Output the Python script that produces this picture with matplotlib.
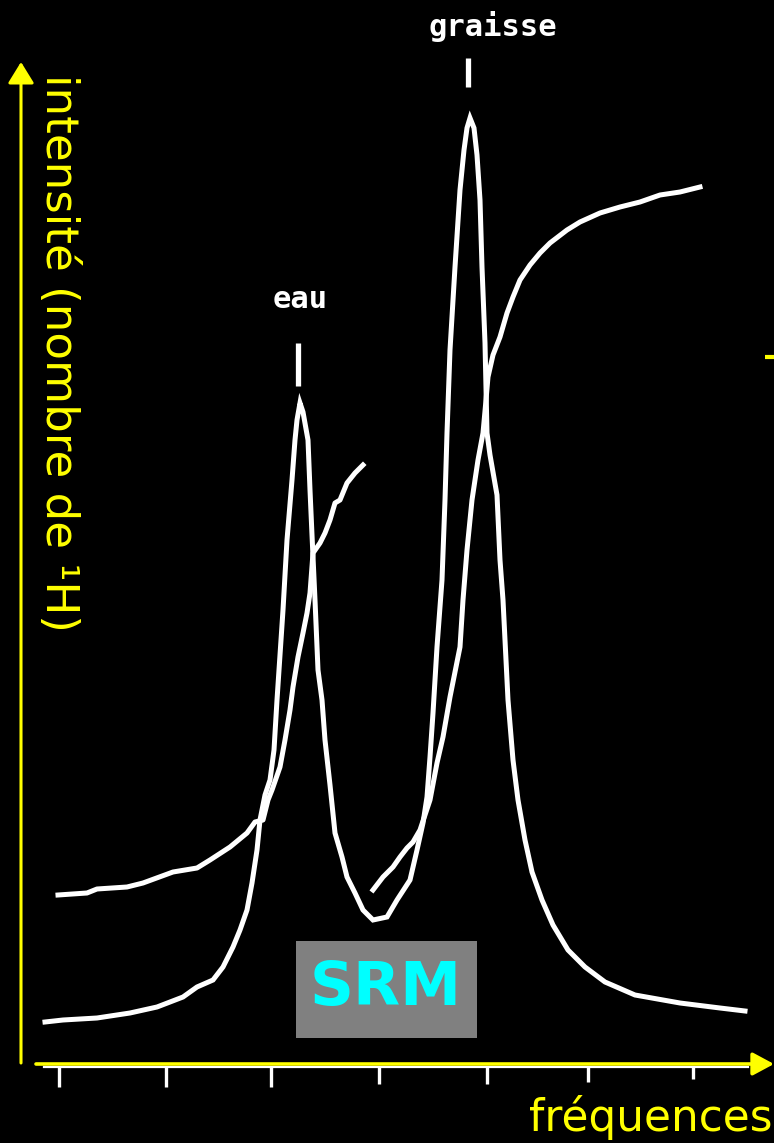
import numpy as np
import matplotlib.pyplot as plt
from matplotlib.patches import Rectangle

# Spectre SRM eau / graisse -- unites arbitraires
# frequence (u.a.) et intensite (u.a.) du spectre d'absorption
abs_freq = [-14, 4, 38, 71, 98, 124, 138, 154, 164, 174, 181, 188, 193, 198, 201,
            206, 211, 215, 218, 221, 224, 228, 233, 236, 238, 241, 244, 249, 251,
            253, 256, 259, 263, 266, 271, 276, 283, 288, 296, 304, 314, 328, 338,
            351, 358, 364, 368, 371, 374, 378, 383, 386, 388, 391, 396, 401, 405,
            408, 411, 415, 418, 421, 423, 426, 428, 431, 438, 441, 444, 446, 449,
            454, 459, 466, 473, 483, 494, 509, 526, 546, 576, 621, 661, 686]
abs_int = [42, 44, 46, 51, 57, 67, 77, 84, 97, 117, 134, 154, 181, 214, 244,
           269, 284, 314, 364, 409, 454, 524, 584, 624, 644, 661, 652, 624, 574,
           529, 464, 394, 364, 324, 279, 231, 207, 187, 171, 154, 144, 147, 164,
           184, 214, 241, 267, 307, 351, 417, 484, 564, 631, 714, 797, 874, 914,
           936, 946, 936, 909, 864, 797, 721, 631, 609, 569, 504, 464, 424, 364,
           304, 264, 224, 192, 164, 139, 114, 97, 82, 69, 61, 56, 53]

# courbe de dispersion, pic de l'eau
disp_eau_freq = [-1, 28, 38, 68, 84, 114, 138, 151, 171, 188, 196, 204, 209, 213,
                 221, 226, 231, 234, 239, 244, 248, 251, 254, 261, 266, 271, 276,
                 281, 288, 296, 304]
disp_eau_int = [169, 171, 175, 177, 181, 192, 196, 204, 217, 231, 242, 244, 264,
                274, 297, 324, 354, 377, 407, 431, 451, 471, 511, 521, 531, 544,
                561, 564, 581, 591, 599]

# courbe de dispersion, pic de la graisse
disp_gr_freq = [314, 324, 334, 341, 348, 354, 361, 371, 378, 384, 391, 401, 404,
                408, 413, 419, 424, 427, 429, 434, 441, 448, 454, 461, 471, 481,
                491, 508, 521, 541, 561, 581, 601, 621, 641]
disp_gr_int = [174, 187, 197, 207, 216, 222, 234, 264, 301, 327, 367, 417, 464,
               514, 564, 604, 631, 664, 687, 709, 727, 751, 767, 784, 799, 811,
               821, 834, 842, 851, 857, 862, 869, 872, 877]

tick_freq = [0, 107, 212, 320, 428, 529, 634]
tick_len = [21, 21, 21, 18, 18, 16, 13]

peak_labels = ['eau', 'graisse']
y_label = 'intensité (nombre de ¹H)'
x_label = 'fréquences'
box_text = 'SRM'

YELLOW = '#ffff00'
CYAN = '#00ffff'

fig = plt.figure(figsize=(7.74, 11.43), dpi=100, facecolor='black')
ax = fig.add_axes([0, 0, 1, 1])
ax.set_facecolor('black')
ax.set_xlim(-59, 715)
ax.set_ylim(-79, 1064)
ax.axis('off')

# spectres
ax.plot(abs_freq, abs_int, color='white', lw=3.6, solid_joinstyle='miter')
ax.plot(disp_eau_freq, disp_eau_int, color='white', lw=3.6)
ax.plot(disp_gr_freq, disp_gr_int, color='white', lw=3.6)

# axes jaunes avec fleches
ax.annotate('', xy=(-38, 1002), xytext=(-38, 1),
            arrowprops=dict(arrowstyle='-|>,head_length=0.65,head_width=0.4',
                            color=YELLOW, lw=2.2, shrinkA=0, shrinkB=0,
                            mutation_scale=20))
ax.annotate('', xy=(715, 0), xytext=(-23, 0),
            arrowprops=dict(arrowstyle='-|>,head_length=0.65,head_width=0.35',
                            color=YELLOW, lw=2.6, shrinkA=0, shrinkB=0,
                            mutation_scale=20))

# graduations blanches sous l'axe
ax.plot([-15, 689], [-2.5, -2.5], color='white', lw=1.6)
for f, l in zip(tick_freq, tick_len):
    ax.plot([f, f], [-2, -2 - l], color='white', lw=2.4, solid_capstyle='butt')

# reperes des pics : (decalage trait, longueur trait, decalage x texte, decalage y texte)
a_freq = np.array(abs_freq)
a_int = np.array(abs_int)
eau_i = np.argmax(np.where(a_freq < 330, a_int, 0))
gr_i = np.argmax(a_int)
for i, lab, gap, length, dx, dy in [(eau_i, peak_labels[0], 17, 43, 0, 103),
                                    (gr_i, peak_labels[1], 31, 29, 23, 92)]:
    pf, pi = a_freq[i], a_int[i]
    ax.plot([pf - 2, pf - 2], [pi + gap, pi + gap + length], color='white',
            lw=3.8, solid_capstyle='butt')
    ax.text(pf + dx, pi + dy, lab, color='white', fontsize=22,
            fontweight='bold', family='DejaVu Sans Mono',
            ha='center', va='center')

# titres des axes
ax.text(-1, 990, y_label, color=YELLOW, fontsize=32.5, rotation=-90,
        ha='center', va='top')
ax.text(713, -76, x_label, color=YELLOW, fontsize=31.5, ha='right', va='bottom')
ax.plot([706, 715], [707, 707], color=YELLOW, lw=3, solid_capstyle='butt')

# encadre SRM
ax.add_patch(Rectangle((237, 26), 181, 97, facecolor='#808080', edgecolor='none'))
ax.text(327, 76, box_text, color=CYAN, fontsize=44, fontweight='bold',
        ha='center', va='center')

fig.savefig('out.png', dpi=100, facecolor='black')
